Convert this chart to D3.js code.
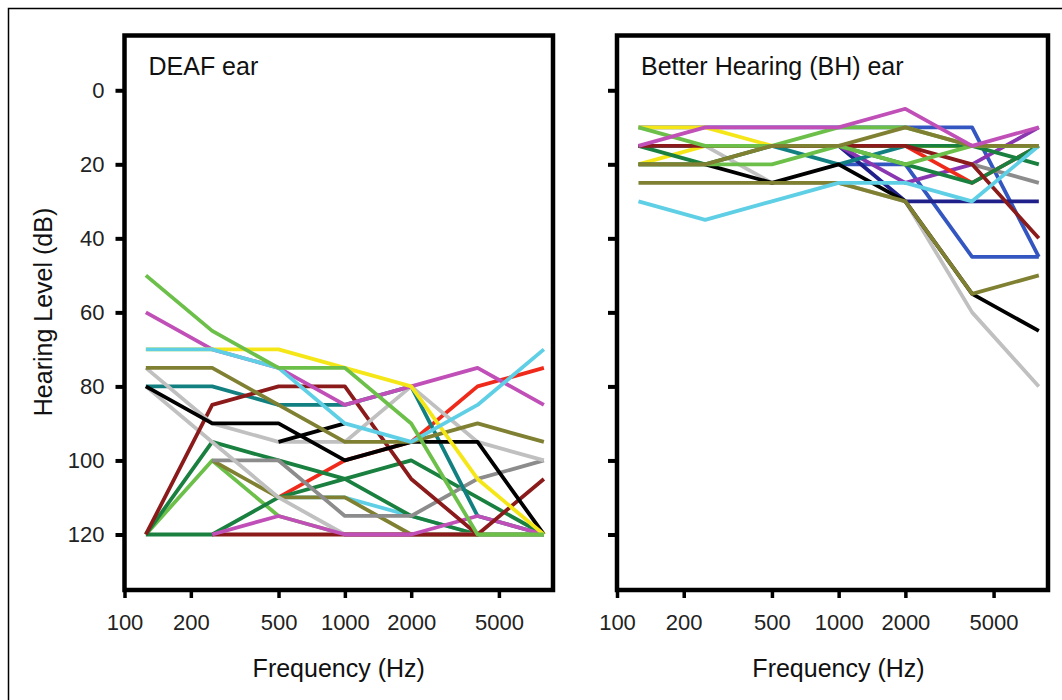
<!DOCTYPE html>
<html>
<head>
<meta charset="utf-8">
<script src="https://cdn.jsdelivr.net/npm/d3@7"></script>
<style>
  body { margin: 0; background: #fff; }
  text { font-family: Arial, "Liberation Sans", sans-serif; }
</style>
</head>
<body>
<script>
// audiogram frequencies (Hz) and axis ticks
var freqs = [125, 250, 500, 1000, 2000, 4000, 8000];
var xTicks = [100, 200, 500, 1000, 2000, 5000];
var yTicks = [0, 20, 40, 60, 80, 100, 120];

// DEAF ear, one row per patient (dB HL), drawn bottom to top
var deafColors = [
  "#5fcfe6", "#f02a1a", "#6cc04a", "#1a8040", "#1a8040", "#808033", "#8c8c8c",
  "#c0c0c0", "#128080", "#8b1a1a", "#c050b8", "#8b1a1a", "#c0c0c0", "#000000",
  "#000000", "#808033", "#c050b8", "#f5e617", "#5fcfe6", "#6cc04a"
];
var deafLevels = [
  [null, null, 110, 110, 115, 120, 120],
  [null, null, 110, 100, 95, 80, 75],
  [120, 100, 115, 120, 120, 120, 120],
  [120, 95, 100, 105, 115, 120, 120],
  [120, 120, 110, 105, 100, 110, 120],
  [null, 100, 110, 110, 120, 120, 120],
  [null, 100, 100, 115, 115, 105, 100],
  [80, 95, 110, 120, 120, 120, 120],
  [80, 80, 85, 85, 80, 115, 120],
  [null, 120, 120, 120, 120, 120, null],
  [null, 120, 115, 120, 120, 115, 120],
  [120, 85, 80, 80, 105, 120, 105],
  [75, 90, 95, 95, 80, 95, 100],
  [null, null, 95, 90, null, null, null],
  [80, 90, 90, 100, 95, 95, 120],
  [75, 75, 85, 95, 95, 90, 95],
  [60, 70, 75, 85, 80, 75, 85],
  [70, 70, 70, 75, 80, 105, 120],
  [70, 70, 75, 90, 95, 85, 70],
  [50, 65, 75, 75, 90, 120, 120]
];

// Better Hearing ear
var bhColors = [
  "#3356c0", "#3356c0", "#20208a", "#8a36b0", "#8c8c8c", "#f02a1a", "#1a8040",
  "#c0c0c0", "#128080", "#f5e617", "#f5e617", "#1a8040", "#8b1a1a", "#000000",
  "#808033", "#5fcfe6", "#6cc04a", "#6cc04a", "#808033", "#c050b8"
];
var bhLevels = [
  [10, 10, 10, 10, 10, 10, 45],
  [null, null, null, 20, 20, 45, 45],
  [null, null, null, 15, 30, 30, 30],
  [null, null, null, 15, 25, 20, 10],
  [null, null, null, null, null, 20, 25],
  [null, null, null, null, 15, 25, 15],
  [null, null, null, 15, 20, 25, 15],
  [15, 15, 25, 25, 30, 60, 80],
  [15, 15, 15, 20, 15, 15, 15],
  [20, 15, 15, 15, 15, 15, 15],
  [10, 10, 15, 15, 15, 15, 15],
  [15, 20, 15, 15, 15, 15, 20],
  [15, 15, 15, 15, 15, 20, 40],
  [20, 20, 25, 20, 30, 55, 65],
  [25, 25, 25, 25, 30, 55, 50],
  [30, 35, 30, 25, 25, 30, 15],
  [20, 20, 20, 15, 20, 15, 15],
  [10, 15, 15, 10, 10, 15, 15],
  [20, 20, 15, 15, 10, 15, 15],
  [15, 10, 10, 10, 5, 15, 10]
];

var svg = d3.select("body").append("svg")
  .attr("width", 1062)
  .attr("height", 700);

svg.append("rect").attr("width", 1062).attr("height", 700).attr("fill", "#fff");

// outer figure frame (only top and left edges are in view)
svg.append("path")
  .attr("d", "M8.5,700V8.5H1062")
  .attr("fill", "none")
  .attr("stroke", "#000")
  .attr("stroke-width", 1.5);

var panelTop = 35.5, panelBottom = 590;

function drawPanel(left, right, title, colors, levels, withLabels) {
  var x = d3.scaleLog().domain([100, 8800]).range([left, right]);
  var y = d3.scaleLinear().domain([-14.8, 135]).range([panelTop, panelBottom]);

  var g = svg.append("g");

  var line = d3.line()
    .defined(d => d[1] != null)
    .x(d => x(d[0]))
    .y(d => y(d[1]));

  g.selectAll(".audio")
    .data(levels)
    .enter()
    .append("path")
    .attr("class", "audio")
    .attr("d", lv => line(freqs.map((f, j) => [f, lv[j]])))
    .attr("fill", "none")
    .attr("stroke", (d, i) => colors[i])
    .attr("stroke-width", 3.8)
    .attr("stroke-linejoin", "round");

  // x axis
  var xAxis = g.append("g")
    .attr("transform", `translate(0, ${panelBottom})`)
    .call(d3.axisBottom(x).tickValues(xTicks).tickFormat(d3.format("d")).tickSize(8).tickPadding(16));
  xAxis.select(".domain").remove();
  xAxis.selectAll("line").attr("stroke", "#000").attr("stroke-width", 3.5);
  xAxis.selectAll("text").attr("font-size", "22px").attr("fill", "#222")
    .attr("font-family", "Arial, 'Liberation Sans', sans-serif");

  // y axis
  var yAxis = g.append("g")
    .attr("transform", `translate(${left}, 0)`)
    .call(d3.axisLeft(y).tickValues(yTicks).tickSize(9).tickPadding(11)
      .tickFormat(withLabels ? d3.format("d") : ""));
  yAxis.select(".domain").remove();
  yAxis.selectAll("line").attr("stroke", "#000").attr("stroke-width", 4);
  yAxis.selectAll("text").attr("font-size", "22px").attr("fill", "#222")
    .attr("font-family", "Arial, 'Liberation Sans', sans-serif");

  // panel box
  g.append("rect")
    .attr("x", left)
    .attr("y", panelTop)
    .attr("width", right - left)
    .attr("height", panelBottom - panelTop)
    .attr("fill", "none")
    .attr("stroke", "#000")
    .attr("stroke-width", 4.5);

  g.append("text")
    .attr("x", left + 24)
    .attr("y", 75)
    .attr("font-size", "25px")
    .attr("fill", "#111")
    .text(title);

  g.append("text")
    .attr("x", (left + right) / 2 + (withLabels ? 0 : 6))
    .attr("y", 677)
    .attr("text-anchor", "middle")
    .attr("font-size", "25px")
    .attr("fill", "#111")
    .text("Frequency (Hz)");

  if (withLabels) {
    g.append("text")
      .attr("transform", "rotate(-90)")
      .attr("x", -312)
      .attr("y", 52)
      .attr("text-anchor", "middle")
      .attr("font-size", "25px")
      .attr("fill", "#111")
      .text("Hearing Level (dB)");
  }
}

drawPanel(124.5, 553, "DEAF ear", deafColors, deafLevels, true);
drawPanel(617, 1048, "Better Hearing (BH) ear", bhColors, bhLevels, false);
</script>
</body>
</html>
